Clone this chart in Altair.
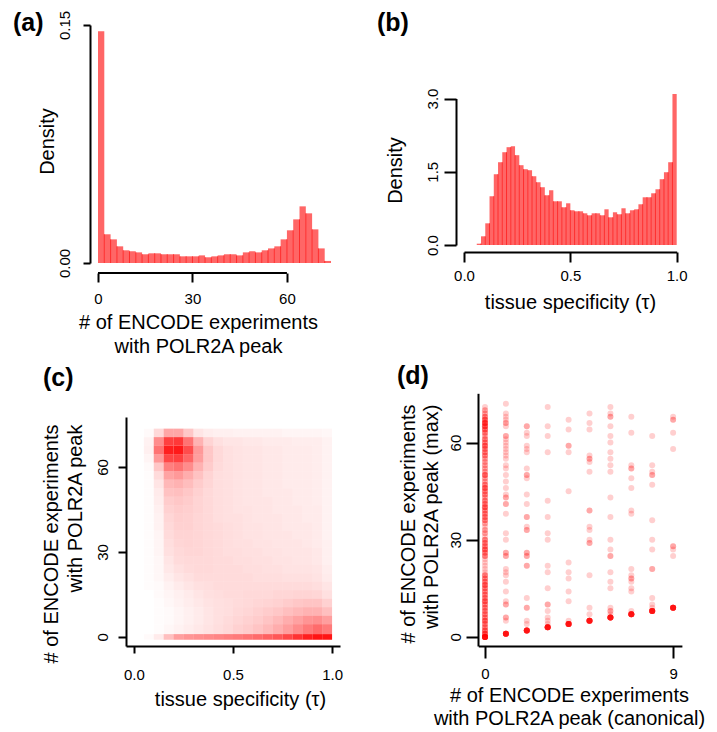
import altair as alt
import pandas as pd

FONT = "Liberation Sans"
BAR_FILL = "#ff6666"
BAR_EDGE = "#ff2b2b"
RED = "#ff0000"

# ---------------- panel (a): # of ENCODE experiments with POLR2A peak (histogram, bin width 2)
a_bin_start = list(range(0, 74, 2))
a_density = [0.146, 0.0181, 0.0149, 0.0105, 0.0080, 0.0074, 0.0067, 0.0055, 0.0061, 0.0061,
             0.0055, 0.0055, 0.0055, 0.0042, 0.0042, 0.0042, 0.0048, 0.0036, 0.0042, 0.0048,
             0.0055, 0.0055, 0.0048, 0.0067, 0.0074, 0.0067, 0.0080, 0.0092, 0.0105, 0.0149,
             0.0206, 0.0275, 0.0357, 0.0313, 0.0212, 0.0092, 0.0013]

# ---------------- panel (b): tissue specificity (tau) histogram, bin width 0.02
b_bin_start = [round(0.06 + 0.02 * i, 2) for i in range(47)]
b_density = [0.027, 0.178, 0.444, 0.998, 1.449, 1.695, 1.900, 2.003, 2.023,
             1.839, 1.634, 1.552, 1.531, 1.408, 1.285, 1.183, 1.018, 1.121,
             0.895, 0.895, 0.772, 0.854, 0.711, 0.690, 0.690, 0.649, 0.608,
             0.649, 0.649, 0.608, 0.731, 0.567, 0.670, 0.629, 0.752, 0.649,
             0.711, 0.731, 0.834, 0.977, 0.977, 1.059, 1.141, 1.347, 1.490,
             1.695, 3.090]

# ---------------- panel (c): point-cloud density (tau vs # experiments), read as a grid
c_tau_edges = [0.00, 0.05, 0.10, 0.15, 0.20, 0.25, 0.30, 0.35, 0.40, 0.45, 0.50,
               0.55, 0.60, 0.65, 0.70, 0.75, 0.80, 0.85, 0.90, 0.95, 1.00]
c_count_edges = [-1.0, 1.0, 4.5, 7.5, 10.5, 13.5, 16.5, 19.5, 22.5, 25.5, 28.5, 31.5, 34.5,
                 37.5, 40.5, 43.5, 46.5, 49.5, 52.5, 55.5, 58.5, 61.5, 64.5, 67.5, 70.5, 73.5]
# rows from bottom (count 0) to top (count ~72), columns tau 0 -> 1
c_intensity = [
    [0.00, 0.02, 0.08, 0.25, 0.38, 0.42, 0.44, 0.46, 0.48, 0.50, 0.52, 0.55, 0.58, 0.62, 0.66, 0.72, 0.80, 0.88, 0.92, 0.92],
    [0.00, 0.00, 0.01, 0.03, 0.05, 0.07, 0.09, 0.11, 0.13, 0.15, 0.18, 0.20, 0.23, 0.27, 0.32, 0.38, 0.45, 0.52, 0.58, 0.52],
    [0.00, 0.00, 0.01, 0.02, 0.04, 0.06, 0.08, 0.10, 0.12, 0.14, 0.16, 0.18, 0.20, 0.23, 0.27, 0.32, 0.37, 0.42, 0.44, 0.38],
    [0.00, 0.00, 0.01, 0.02, 0.04, 0.06, 0.08, 0.10, 0.12, 0.13, 0.15, 0.16, 0.18, 0.20, 0.22, 0.25, 0.28, 0.30, 0.30, 0.25],
    [0.00, 0.00, 0.01, 0.03, 0.05, 0.07, 0.09, 0.11, 0.12, 0.13, 0.14, 0.15, 0.16, 0.17, 0.18, 0.20, 0.22, 0.23, 0.23, 0.18],
    [0.00, 0.00, 0.02, 0.04, 0.06, 0.08, 0.10, 0.12, 0.13, 0.14, 0.14, 0.15, 0.15, 0.15, 0.16, 0.16, 0.17, 0.17, 0.16, 0.12],
    [0.00, 0.01, 0.02, 0.05, 0.08, 0.10, 0.12, 0.13, 0.14, 0.14, 0.14, 0.14, 0.14, 0.14, 0.14, 0.14, 0.14, 0.14, 0.13, 0.10],
    [0.00, 0.01, 0.03, 0.07, 0.10, 0.12, 0.14, 0.14, 0.14, 0.14, 0.14, 0.14, 0.13, 0.13, 0.13, 0.12, 0.12, 0.12, 0.11, 0.08],
    [0.00, 0.01, 0.03, 0.09, 0.12, 0.14, 0.15, 0.15, 0.14, 0.14, 0.14, 0.13, 0.13, 0.12, 0.12, 0.11, 0.11, 0.11, 0.10, 0.07],
    [0.00, 0.01, 0.03, 0.10, 0.14, 0.15, 0.15, 0.15, 0.14, 0.14, 0.13, 0.13, 0.12, 0.12, 0.11, 0.11, 0.10, 0.10, 0.09, 0.06],
    [0.00, 0.01, 0.04, 0.12, 0.15, 0.16, 0.16, 0.15, 0.14, 0.13, 0.13, 0.12, 0.12, 0.11, 0.11, 0.10, 0.10, 0.10, 0.09, 0.06],
    [0.00, 0.01, 0.04, 0.13, 0.16, 0.17, 0.16, 0.15, 0.14, 0.13, 0.12, 0.12, 0.11, 0.11, 0.10, 0.10, 0.10, 0.09, 0.08, 0.06],
    [0.00, 0.01, 0.04, 0.14, 0.17, 0.17, 0.16, 0.15, 0.14, 0.13, 0.12, 0.11, 0.11, 0.10, 0.10, 0.10, 0.09, 0.09, 0.08, 0.05],
    [0.00, 0.01, 0.05, 0.15, 0.18, 0.18, 0.16, 0.15, 0.14, 0.13, 0.12, 0.11, 0.11, 0.10, 0.10, 0.09, 0.09, 0.09, 0.08, 0.05],
    [0.00, 0.01, 0.05, 0.16, 0.19, 0.18, 0.16, 0.15, 0.13, 0.12, 0.12, 0.11, 0.10, 0.10, 0.10, 0.09, 0.09, 0.08, 0.08, 0.05],
    [0.00, 0.01, 0.06, 0.18, 0.20, 0.19, 0.17, 0.15, 0.13, 0.12, 0.11, 0.11, 0.10, 0.10, 0.09, 0.09, 0.09, 0.08, 0.08, 0.05],
    [0.00, 0.01, 0.07, 0.20, 0.22, 0.20, 0.17, 0.15, 0.13, 0.12, 0.11, 0.10, 0.10, 0.10, 0.09, 0.09, 0.08, 0.08, 0.07, 0.05],
    [0.00, 0.01, 0.08, 0.24, 0.25, 0.22, 0.18, 0.15, 0.13, 0.12, 0.11, 0.10, 0.10, 0.09, 0.09, 0.09, 0.08, 0.08, 0.07, 0.05],
    [0.00, 0.01, 0.10, 0.28, 0.30, 0.26, 0.20, 0.16, 0.13, 0.12, 0.11, 0.10, 0.10, 0.09, 0.09, 0.08, 0.08, 0.08, 0.07, 0.05],
    [0.00, 0.01, 0.14, 0.36, 0.40, 0.32, 0.24, 0.17, 0.13, 0.12, 0.11, 0.10, 0.10, 0.09, 0.09, 0.08, 0.08, 0.08, 0.07, 0.05],
    [0.00, 0.02, 0.22, 0.50, 0.55, 0.45, 0.30, 0.20, 0.14, 0.12, 0.11, 0.10, 0.10, 0.09, 0.09, 0.08, 0.08, 0.08, 0.07, 0.05],
    [0.00, 0.04, 0.40, 0.72, 0.75, 0.60, 0.38, 0.22, 0.15, 0.12, 0.11, 0.10, 0.10, 0.09, 0.09, 0.08, 0.08, 0.08, 0.07, 0.05],
    [0.00, 0.06, 0.55, 0.88, 0.90, 0.70, 0.40, 0.22, 0.15, 0.12, 0.11, 0.10, 0.10, 0.09, 0.09, 0.08, 0.08, 0.08, 0.07, 0.05],
    [0.00, 0.05, 0.45, 0.75, 0.78, 0.55, 0.30, 0.17, 0.12, 0.10, 0.10, 0.09, 0.09, 0.08, 0.08, 0.08, 0.07, 0.07, 0.07, 0.05],
    [0.00, 0.02, 0.15, 0.35, 0.35, 0.22, 0.10, 0.07, 0.06, 0.06, 0.05, 0.05, 0.05, 0.05, 0.05, 0.04, 0.04, 0.04, 0.04, 0.03],
]

# ---------------- panel (d): canonical vs max (points, number of overlapping genes)
d_col0_max = [0, 1, 2, 3, 4, 5, 6, 7, 8, 9, 10, 11, 12, 13, 14, 15, 16, 17, 18, 19, 20, 21, 22, 23,
              24, 25, 26, 27, 28, 29, 30, 31, 32, 33, 34, 35, 36, 37, 38, 39, 40, 41, 42, 43, 44, 45, 46, 47,
              48, 49, 50, 51, 52, 53, 54, 55, 56, 57, 58, 59, 60, 61, 62, 63, 64, 65, 66, 67, 68, 69, 70, 71]
d_col0_n = [14, 5, 4, 3, 3, 4, 3, 3, 3, 3, 3, 4, 3, 3, 3, 3, 4, 3, 3, 3, 1, 1, 1, 1,
            1, 3, 3, 4, 3, 3, 3, 1, 2, 2, 1, 2, 3, 3, 3, 3, 4, 3, 3, 2, 3, 3, 4, 3,
            2, 2, 4, 2, 2, 2, 2, 2, 3, 3, 3, 4, 3, 3, 2, 3, 4, 5, 6, 4, 3, 2, 2, 1]
d_col1_max = [1, 5, 6, 10, 11, 14, 17, 19, 20, 21, 25, 26, 30, 32, 38, 41, 43, 44, 46, 48, 50, 52,
              53, 55, 56, 57, 58, 59, 60, 61, 62, 65, 66, 67, 68, 69, 72]
d_col1_n = [12, 1, 2, 2, 1, 1, 1, 1, 1, 1, 2, 2, 1, 1, 1, 2, 2, 1, 1, 1, 1, 1,
            1, 1, 1, 1, 1, 1, 1, 1, 2, 1, 2, 1, 1, 1, 1]
d_col2_max = [2, 4, 5, 9, 12, 22, 25, 26, 33, 34, 37, 41, 44, 49, 50, 52, 57, 58, 59, 62, 63, 65]
d_col2_n = [12, 1, 1, 2, 1, 2, 2, 2, 2, 1, 2, 1, 1, 1, 2, 1, 1, 1, 1, 1, 1, 2]
d_col3_max = [3, 4, 5, 6, 8, 10, 15, 20, 22, 30, 32, 37, 42, 57, 62, 65, 71]
d_col3_n = [12, 1, 1, 1, 1, 2, 1, 1, 1, 1, 1, 1, 1, 1, 1, 1, 1]
d_col4_max = [4, 5, 11, 14, 18, 20, 23, 45, 57, 59, 64, 67]
d_col4_n = [12, 1, 1, 1, 1, 1, 1, 1, 1, 2, 1, 1]
d_col5_max = [5, 7, 9, 19, 29, 30, 33, 34, 39, 51, 54, 55, 56, 64, 66, 69]
d_col5_n = [12, 1, 1, 1, 2, 1, 1, 1, 2, 1, 1, 2, 1, 1, 1, 1]
d_col6_max = [6, 7, 8, 9, 15, 17, 20, 25, 27, 30, 37, 43, 51, 53, 55, 57, 60, 62, 65, 68, 69, 71]
d_col6_n = [12, 1, 2, 1, 1, 1, 1, 2, 1, 1, 1, 1, 1, 1, 1, 1, 1, 1, 1, 2, 1, 1]
d_col7_max = [7, 8, 14, 15, 17, 18, 19, 21, 38, 39, 46, 49, 52, 53, 63, 68]
d_col7_n = [12, 1, 1, 1, 1, 2, 1, 1, 1, 1, 1, 1, 2, 1, 1, 1]
d_col8_max = [8, 9, 10, 12, 21, 27, 30, 36, 47, 50, 51, 53, 62]
d_col8_n = [12, 1, 1, 1, 2, 1, 1, 1, 1, 2, 1, 1, 1]
d_col9_max = [9, 25, 27, 28, 58, 63, 67, 68]
d_col9_n = [12, 1, 1, 2, 1, 1, 2, 1]

# ---------------- tables built from the arrays
dfa = pd.DataFrame({"x0": a_bin_start, "x1": [s + 2 for s in a_bin_start], "d": a_density})
dfa_edges = pd.DataFrame({"x": a_bin_start[1:],
                          "h": [min(p, q) for p, q in zip(a_density[:-1], a_density[1:])]})
dfb = pd.DataFrame({"x0": b_bin_start, "x1": [round(s + 0.02, 2) for s in b_bin_start], "d": b_density})
dfb_edges = pd.DataFrame({"x": b_bin_start[1:],
                          "h": [min(p, q) for p, q in zip(b_density[:-1], b_density[1:])]})
c_rows = []
for j, row in enumerate(c_intensity):
    for i, v in enumerate(row):
        c_rows.append({"t0": c_tau_edges[i], "t1": c_tau_edges[i + 1],
                       "v0": c_count_edges[j], "v1": c_count_edges[j + 1], "op": v})
dfc = pd.DataFrame(c_rows)
d_cols = [(d_col0_max, d_col0_n), (d_col1_max, d_col1_n), (d_col2_max, d_col2_n), (d_col3_max, d_col3_n),
          (d_col4_max, d_col4_n), (d_col5_max, d_col5_n), (d_col6_max, d_col6_n), (d_col7_max, d_col7_n),
          (d_col8_max, d_col8_n), (d_col9_max, d_col9_n)]
d_rows = []
for canon, (ys, ns) in enumerate(d_cols):
    for yv, n in zip(ys, ns):
        for _ in range(n):
            d_rows.append({"canon": canon, "mx": yv})
dfd = pd.DataFrame(d_rows)
one = pd.DataFrame({"k": [0]})


# ---------------- axis helpers
def left_axis(offset, values, fmt, title, tick, pad, tx, ty, talign="center", lh=24):
    return alt.Axis(orient="left", offset=offset, values=values, format=fmt, title=title,
                    grid=False, domain=True, domainColor="black", domainWidth=2,
                    ticks=True, tickColor="black", tickWidth=2, tickSize=tick,
                    labelFont=FONT, labelFontSize=15, labelColor="black", labelAngle=270,
                    labelAlign="center", labelBaseline="alphabetic", labelPadding=pad,
                    labelFlush=False, labelOverlap=False,
                    titleFont=FONT, titleFontSize=20, titleFontWeight="normal", titleColor="black",
                    titleAngle=270, titleAlign=talign, titleBaseline="alphabetic",
                    titleX=tx, titleY=ty, titleLineHeight=lh)


def bottom_axis(offset, values, fmt, title, tick, pad, tx, ty, lh=24, domain=True):
    return alt.Axis(orient="bottom", offset=offset, values=values, format=fmt, title=title,
                    grid=False, domain=domain, domainColor="black", domainWidth=2,
                    ticks=True, tickColor="black", tickWidth=2, tickSize=tick,
                    labelFont=FONT, labelFontSize=15, labelColor="black", labelAngle=0,
                    labelAlign="center", labelBaseline="top", labelPadding=pad,
                    labelFlush=False, labelOverlap=False,
                    titleFont=FONT, titleFontSize=20, titleFontWeight="normal", titleColor="black",
                    titleAngle=0, titleAlign="center", titleBaseline="alphabetic",
                    titleX=tx, titleY=ty, titleLineHeight=lh)


H = 732
ENC = ["# of ENCODE experiments", "with POLR2A peak"]

# ---------------- panel (a)
xa = alt.Scale(domain=[0, 74], range=[98, 331], nice=False, zero=False)
ya = alt.Scale(domain=[0, 0.15], range=[263, 25], nice=False, zero=False)
ax_a_x = bottom_axis(273 - H, [0, 30, 60], "d", ENC, 9, 9, 198, 55, domain=False)
ax_a_y = left_axis(-90, [0, 0.15], ".2f", "Density", 7, 14, -37, 141)
pa_bars = alt.Chart(dfa).mark_rect(color=BAR_FILL).encode(
    x=alt.X("x0:Q", scale=xa, axis=ax_a_x), x2="x1:Q",
    y=alt.Y("d:Q", scale=ya, axis=ax_a_y), y2=alt.datum(0))
pa_edges = alt.Chart(dfa_edges).mark_rule(color=BAR_EDGE, strokeWidth=1).encode(
    x=alt.X("x:Q", scale=xa, axis=ax_a_x),
    y=alt.Y("h:Q", scale=ya, axis=ax_a_y), y2=alt.datum(0))
pa_line = alt.Chart(one).mark_rule(color="black", strokeWidth=2).encode(
    x=alt.XDatum(0, type="quantitative", scale=xa, axis=ax_a_x), x2=alt.datum(60), y=alt.value(273))
panel_a = alt.layer(pa_bars, pa_edges, pa_line)

# ---------------- panel (b)
xb = alt.Scale(domain=[0, 1], range=[464, 676.7], nice=False, zero=False)
yb = alt.Scale(domain=[0, 3], range=[245, 98.5], nice=False, zero=False)
ax_b_x = bottom_axis(252 - H, [0, 0.5, 1], ".1f", "tissue specificity (\u03c4)", 10, 6, 570, 56)
ax_b_y = left_axis(-456, [0, 1.5, 3], ".1f", "Density", 12, 7, -55, 170)
pb_bars = alt.Chart(dfb).mark_rect(color=BAR_FILL).encode(
    x=alt.X("x0:Q", scale=xb, axis=ax_b_x), x2="x1:Q",
    y=alt.Y("d:Q", scale=yb, axis=ax_b_y), y2=alt.datum(0))
pb_edges = alt.Chart(dfb_edges).mark_rule(color=BAR_EDGE, strokeWidth=1).encode(
    x=alt.X("x:Q", scale=xb, axis=ax_b_x),
    y=alt.Y("h:Q", scale=yb, axis=ax_b_y), y2=alt.datum(0))
panel_b = alt.layer(pb_bars, pb_edges)

# ---------------- panel (c)
xc = alt.Scale(domain=[-0.04, 1.04], range=[126, 340], nice=False, zero=False)
yc = alt.Scale(domain=[-3.2, 77.6], range=[646, 417], nice=False, zero=False)
ax_c_x = bottom_axis(646 - H, [0, 0.5, 1], ".1f", "tissue specificity (\u03c4)", 7, 14, 240, 59)
ax_c_y = left_axis(-126, [0, 30, 60], "d", ENC, 8, 11, -69, 424, talign="right", lh=24)
panel_c = alt.Chart(dfc).mark_rect(color=RED, strokeWidth=0).encode(
    x=alt.X("t0:Q", scale=xc, axis=ax_c_x), x2="t1:Q",
    y=alt.Y("v0:Q", scale=yc, axis=ax_c_y), y2="v1:Q",
    opacity=alt.Opacity("op:Q", scale=None, legend=None))

# ---------------- panel (d)
xd = alt.Scale(domain=[-0.32, 9.42], range=[478.3, 681.9], nice=False, zero=False)
yd = alt.Scale(domain=[-2.8, 75.2], range=[646, 393.3], nice=False, zero=False)
ax_d_x = bottom_axis(646 - H, [0, 9], "d",
                     ["# of ENCODE experiments", "with POLR2A peak (canonical)"], 12, 8, 569, 55, lh=23)
ax_d_y = left_axis(-478, [0, 30, 60], "d",
                   ["# of ENCODE experiments", "with POLR2A peak (max)"], 12, 6, -64, 404,
                   talign="right", lh=23)
panel_d = alt.Chart(dfd).mark_circle(color=RED, opacity=0.19, size=36).encode(
    x=alt.X("canon:Q", scale=xd, axis=ax_d_x),
    y=alt.Y("mx:Q", scale=yd, axis=ax_d_y))


# ---------------- panel letters
def letter(txt, px, py):
    return alt.Chart(pd.DataFrame({"t": [txt]})).mark_text(
        font=FONT, fontSize=25, fontWeight="bold", align="left", baseline="alphabetic", color="black"
    ).encode(text="t:N", x=alt.value(px), y=alt.value(py))


chart = alt.layer(
    panel_a, panel_b, panel_c, panel_d,
    letter("(a)", 13, 31), letter("(b)", 377, 31), letter("(c)", 43, 386), letter("(d)", 397, 384),
).resolve_scale(x="independent", y="independent").properties(
    width=717, height=732, autosize=alt.AutoSizeParams(type="none"), padding=0
).configure_view(strokeWidth=0)

chart.save("out.html", embed_options={"renderer": "svg", "actions": False})
